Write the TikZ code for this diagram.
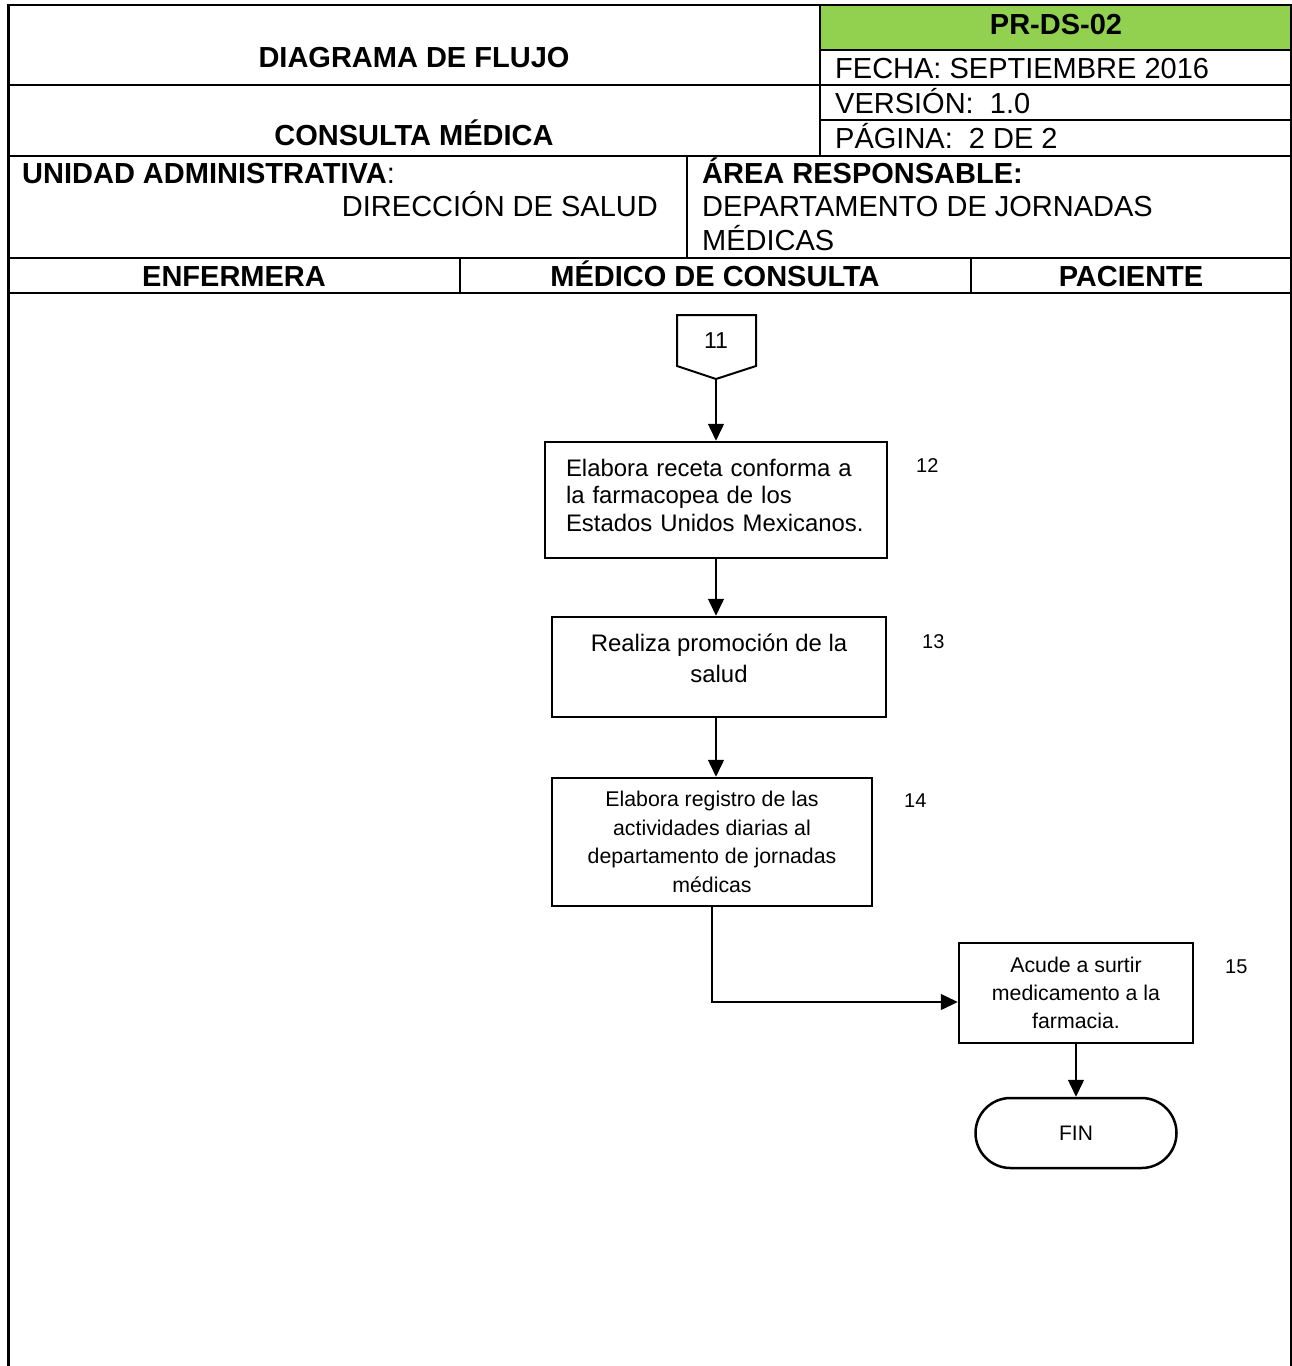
\documentclass[tikz,border=0pt]{standalone}
\usepackage{fontspec}
\setmainfont{Liberation Sans}
\usetikzlibrary{arrows.meta,positioning}
\definecolor{verdeps}{HTML}{92D050}

\begin{document}
\begin{tikzpicture}[x=1pt,y=-1pt,>={Triangle[length=17pt,width=16pt]},
    flecha/.style={->,line width=1.5pt},
    caja/.style={draw,line width=2.5pt,inner sep=0pt,align=center},
    linea/.style={line width=2pt},
    encab/.style={font=\fontsize{29}{33}\selectfont,inner sep=0pt},
    num/.style={font=\fontsize{20}{24}\selectfont,anchor=base west,inner sep=0pt}]

  \useasboundingbox (0,0) rectangle (1292,1366);

  % encabezado
  \fill[verdeps] (820,5) rectangle (1291,50);
  \draw[linea] (8,5) -- (1291,5);
  \draw[linea] (820,50) -- (1291,50);
  \draw[linea] (8,85) -- (1291,85);
  \draw[linea] (820,120) -- (1291,120);
  \draw[linea] (8,156) -- (1291,156);
  \draw[linea] (8,258) -- (1291,258);
  \draw[linea] (8,293) -- (1291,293);
  \draw[linea] (820,5) -- (820,156);
  \draw[linea] (687,156) -- (687,258);
  \draw[linea] (460,258) -- (460,293);
  \draw[linea] (971,258) -- (971,293);
  \draw[line width=3pt] (8,4) -- (8,1366);
  \draw[line width=1.2pt] (1291,4) -- (1291,1366);

  \node[encab,anchor=base] (titulo) at (414,67) {\bfseries DIAGRAMA DE FLUJO};
  \node[encab,anchor=base] (proc) at (414,145) {\bfseries CONSULTA MÉDICA};
  \node[encab,anchor=base] (clave) at (1056,34) {\bfseries PR-DS-02};
  \node[encab,anchor=base west] (fecha) at (835,78) {FECHA: SEPTIEMBRE 2016};
  \node[encab,anchor=base west] (version) at (835,113) {VERSIÓN:\ \ 1.0};
  \node[encab,anchor=base west] (pagina) at (835,148) {PÁGINA:\ \ 2 DE 2};
  \node[encab,anchor=base west] (unidad) at (22,183) {\textbf{UNIDAD ADMINISTRATIVA}:};
  \node[encab,anchor=base east] (direccion) at (658,216) {DIRECCIÓN DE SALUD};
  \node[encab,anchor=base west] (area) at (702,183) {\bfseries ÁREA RESPONSABLE:};
  \node[encab,anchor=base west] (depto) at (702,216) {DEPARTAMENTO DE JORNADAS};
  \node[encab,anchor=base west] (depto2) at (702,250) {MÉDICAS};
  \node[encab,anchor=base] (enfermera) at (234,286) {\bfseries ENFERMERA};
  \node[encab,anchor=base] (medico) at (715,286) {\bfseries MÉDICO DE CONSULTA};
  \node[encab,anchor=base] (paciente) at (1131,286) {\bfseries PACIENTE};

  % diagrama
  \node[font=\fontsize{23}{27}\selectfont] (c11) at (716,341) {11};
  \draw[line width=2pt] (677,315) -- (756,315) -- (756,366) -- (716,379) -- (677,366) -- cycle;
  \coordinate (c11punta) at (716,379);

  \node[caja,minimum width=342pt,minimum height=116pt,text width=300pt,align=left,
    font=\fontsize{23.9}{27.5}\selectfont] (receta) at (716,500)
    {Elabora receta conforma a\\la farmacopea de los\\Estados Unidos Mexicanos.\rule[-10pt]{0pt}{10pt}};
  \node[caja,minimum width=334pt,minimum height=100pt,
    font=\fontsize{23.9}{31}\selectfont] (promocion) at (719,667)
    {Realiza promoción de la\\salud\rule[-18pt]{0pt}{18pt}};
  \node[caja,minimum width=320pt,minimum height=128pt,
    font=\fontsize{21.3}{28.5}\selectfont] (registro) at (712,842)
    {Elabora registro de las\\actividades diarias al\\departamento de jornadas\\médicas};
  \node[caja,minimum width=234pt,minimum height=100pt,
    font=\fontsize{21.3}{28}\selectfont] (farmacia) at (1076,993)
    {Acude a surtir\\medicamento a la\\farmacia.};
  \node[caja,minimum width=201pt,minimum height=70pt,rounded corners=35pt,
    font=\fontsize{21}{25}\selectfont] (fin) at (1076,1133) {FIN};

  \node[num] (n12) at (916,472) {12};
  \node[num] (n13) at (922,648) {13};
  \node[num] (n14) at (904,807) {14};
  \node[num] (n15) at (1225,973) {15};

  \path[flecha]
    (c11punta) edge (receta.north)
    (receta.south) edge (receta.south |- promocion.north)
    (receta.south |- promocion.south) edge (receta.south |- registro.north)
    (farmacia.south) edge (fin.north);
  \draw[flecha] (registro.south) |- ([yshift=-9pt]farmacia.west);
\end{tikzpicture}
\end{document}
